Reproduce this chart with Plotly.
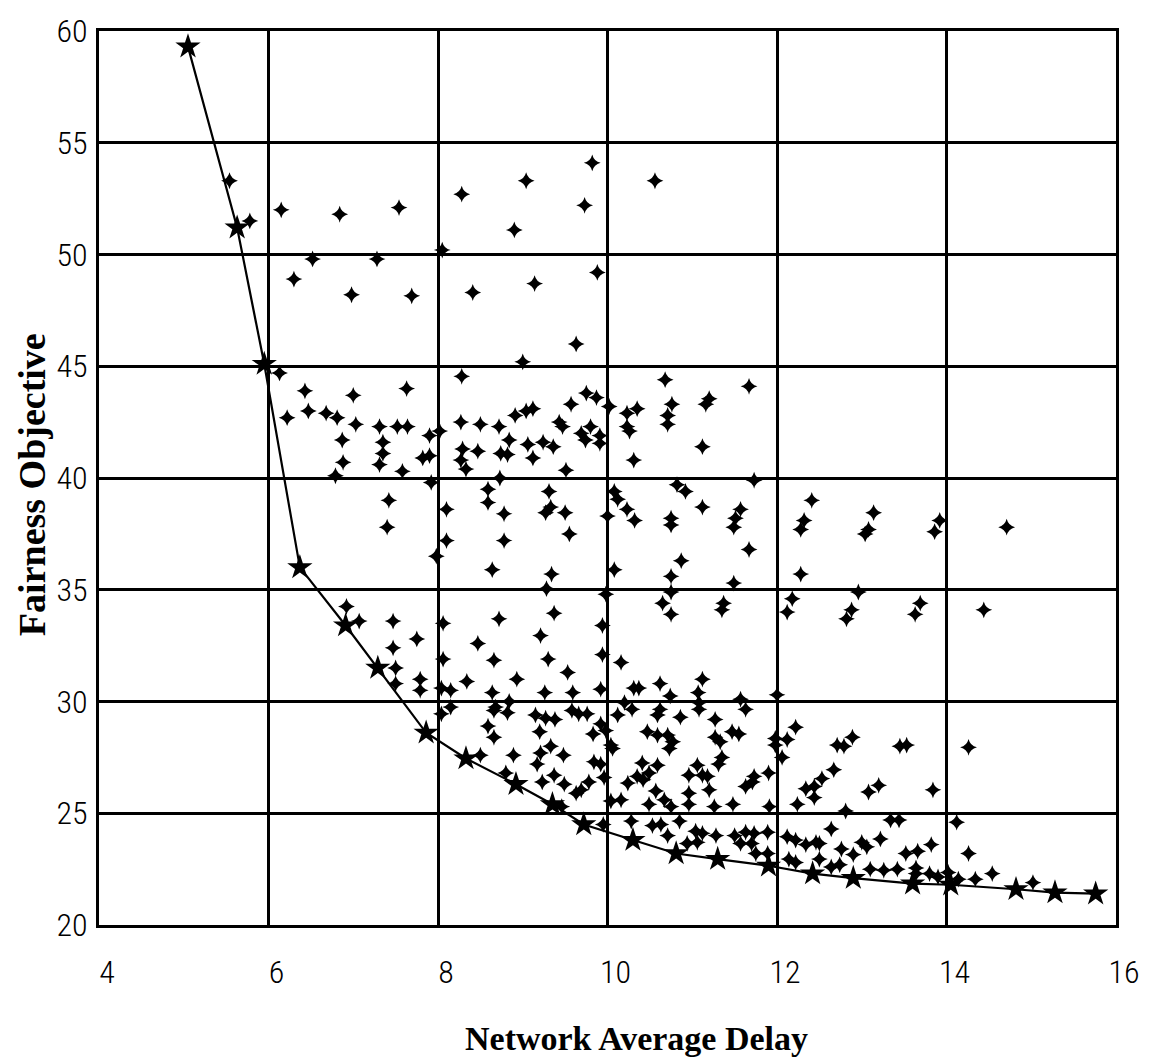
import plotly.graph_objects as go

# Pareto front (star markers joined by a line)
front_delay = [5.05, 5.63, 5.95, 6.37, 6.91, 7.29, 7.86, 8.33, 8.92, 9.35, 9.72,
               10.30, 10.81, 11.30, 11.90, 12.42, 12.90, 13.60, 14.05, 14.82, 15.28, 15.76]
front_fair = [59.3, 51.2, 45.1, 36.0, 33.4, 31.5, 28.6, 27.45, 26.3, 25.4, 24.5,
              23.8, 23.2, 22.95, 22.65, 22.3, 22.1, 21.85, 21.8, 21.6, 21.45, 21.4]

# Other evaluated solutions (+ markers)
pts_delay = [
    5.54, 5.78, 6.15, 6.84, 7.54, 8.28, 9.04, 9.82, 9.73, 8.90, 10.56,
    6.52, 7.28, 6.30, 6.98, 7.69, 8.41, 9.14, 9.88, 9.63, 8.05, 9.00,
    6.13, 8.28, 10.68,
    6.43, 7.00, 7.63, 6.22, 6.47, 6.68, 6.81, 7.03, 7.31, 7.52, 7.64, 7.90, 8.02,
    6.87, 7.35, 7.35, 7.82, 7.90, 6.88, 7.31, 7.58, 6.79, 7.92, 7.42, 7.40, 8.10, 8.10, 7.98,
    8.27, 8.50, 8.72, 8.91, 9.04, 9.12, 9.57, 9.75, 9.87, 8.84, 9.06, 9.24, 9.36, 9.12,
    8.29, 8.27, 8.47, 8.74, 8.82, 8.33, 9.43, 9.47, 9.69, 9.74, 9.80, 9.91, 9.91, 9.51,
    10.02, 10.23, 10.35, 10.23, 10.26, 10.31,
    8.73, 8.59, 8.59, 8.78, 8.78, 9.31, 9.33, 9.27, 9.50, 9.55, 8.64, 9.34, 9.28,
    10.08, 10.12, 10.23, 10.32, 10.00, 10.08, 9.98,
    11.67, 10.76, 10.71, 10.71, 11.20, 11.16, 11.12, 11.73, 10.82, 10.92, 11.12, 10.75, 10.75,
    11.57, 11.51, 11.49, 11.67, 10.87, 10.75, 10.75, 10.65, 10.75, 11.37, 11.35, 11.49,
    12.41, 12.32, 12.28, 13.14, 13.08, 13.04, 13.92, 13.86, 14.71, 12.28, 12.96, 12.88, 12.82,
    13.69, 13.63, 14.44, 12.18, 12.12,
    6.92, 7.07, 7.47, 7.75, 7.47, 7.50, 7.50, 7.79, 7.79, 8.06, 8.06, 8.04, 8.15, 8.15, 8.04,
    8.34, 8.47, 8.72, 8.66, 8.93, 9.21, 9.37, 9.30, 9.53, 9.94, 9.94, 9.92,
    8.64, 9.26, 9.59, 8.68, 8.82, 8.66, 8.84, 9.15, 9.27, 9.38, 9.58, 9.66, 9.76, 9.92, 9.98,
    9.83, 8.59, 8.66, 9.20, 9.33, 9.48, 9.21, 9.17, 8.89, 8.50, 9.84, 9.92, 10.04,
    9.37, 9.49, 9.23, 9.78, 9.96, 9.63, 9.69, 8.80,
    10.16, 11.12, 10.37, 10.31, 10.62, 10.74, 11.07, 11.08, 11.08, 11.57, 11.63, 10.20, 10.29,
    10.12, 10.62, 10.59, 10.86, 11.27, 10.47, 10.59, 10.71, 10.77, 10.73, 11.27, 11.33, 11.47,
    11.55, 10.06, 11.35, 11.31, 11.98, 11.98, 12.22, 12.06, 12.12, 12.71, 12.79, 12.89, 12.67,
    10.41, 10.59, 10.49, 11.06, 10.96, 11.12, 11.18, 11.73, 11.90, 10.35, 12.53, 12.00,
    13.53, 13.45, 14.26,
    9.46, 10.04, 10.16, 10.24, 10.42, 10.57, 10.67, 10.49, 10.75, 10.96, 10.96, 11.20, 11.26,
    11.48, 11.63, 11.71, 11.91, 12.24, 12.34, 12.44, 12.44, 12.81,
    10.28, 9.95, 10.53, 10.63, 10.85, 10.71, 11.04, 11.12, 11.28, 10.94, 11.06, 11.50, 11.63,
    11.73, 11.57, 11.70, 11.89, 11.75, 12.12, 12.22, 12.34, 12.46, 12.50, 12.64, 12.76, 12.14,
    12.22, 12.50, 12.64, 11.89,
    13.08, 13.20, 13.84, 13.34, 13.44, 14.12, 13.22, 13.06, 13.00, 13.82, 12.90, 13.52, 13.66,
    14.26, 12.74, 13.10, 13.26, 13.42, 13.64, 13.64, 13.80, 13.90, 14.02, 14.54, 14.34, 14.14,
    15.02,
]
pts_fair = [
    53.3, 51.5, 52.0, 51.8, 52.1, 52.7, 53.3, 54.1, 52.2, 51.1, 53.3,
    49.8, 49.8, 48.9, 48.2, 48.15, 48.3, 48.7, 49.2, 46.0, 50.2, 45.2,
    44.7, 44.55, 44.4,
    43.9, 43.7, 44.0, 42.7, 43.0, 42.9, 42.7, 42.4, 42.3, 42.3, 42.3, 41.9, 42.1,
    41.7, 41.6, 41.1, 40.9, 41.0, 40.7, 40.6, 40.3, 40.1, 39.8, 39.0, 37.8, 38.6, 37.2, 36.5,
    42.5, 42.4, 42.3, 42.8, 43.0, 43.1, 43.3, 43.8, 43.6, 41.7, 41.5, 41.6, 41.4, 40.9,
    41.3, 40.8, 41.2, 41.1, 41.05, 40.4, 42.5, 42.3, 42.0, 41.7, 42.3, 41.9, 41.55, 40.35,
    43.2, 42.9, 43.1, 42.3, 42.1, 40.8,
    40.0, 39.5, 38.9, 38.4, 37.2, 39.4, 38.7, 38.45, 38.45, 37.5, 35.9, 35.7, 35.05,
    39.4, 39.05, 38.6, 38.1, 38.3, 35.9, 34.8,
    44.1, 43.3, 42.8, 42.4, 43.55, 43.3, 41.4, 39.9, 39.7, 39.4, 38.7, 38.2, 37.9,
    38.6, 38.2, 37.8, 36.8, 36.3, 35.6, 34.9, 34.4, 33.9, 34.4, 34.1, 35.3,
    39.0, 38.1, 37.7, 38.45, 37.7, 37.5, 38.1, 37.6, 37.8, 35.7, 34.9, 34.1, 33.7,
    34.4, 33.9, 34.1, 34.6, 34.0,
    34.25, 33.6, 33.6, 32.8, 32.4, 31.5, 30.8, 31.0, 30.5, 33.5, 31.9, 30.6, 30.5, 29.75, 29.45,
    30.9, 32.6, 33.7, 31.85, 31.0, 32.95, 33.95, 31.9, 31.3, 33.4, 32.1, 30.55,
    30.4, 30.4, 30.4, 29.75, 29.5, 29.6, 30.0, 29.4, 29.25, 29.2, 29.6, 29.45, 29.45, 29.0, 28.7,
    28.55, 28.9, 28.4, 28.65, 28.0, 27.6, 27.7, 27.2, 27.6, 27.6, 27.3, 27.2, 28.05,
    26.7, 26.3, 26.4, 26.4, 26.6, 25.9, 26.05, 26.8,
    31.75, 31.0, 30.6, 30.6, 30.8, 30.25, 30.4, 29.95, 29.65, 30.1, 29.65, 29.95, 29.65,
    29.4, 29.65, 29.4, 29.3, 29.2, 28.65, 28.5, 28.5, 28.2, 27.9, 28.4, 28.2, 28.65,
    28.55, 27.9, 27.5, 27.2, 28.35, 28.05, 28.85, 27.5, 28.3, 28.05, 28.0, 28.4, 26.95,
    27.25, 27.15, 26.8, 27.15, 26.7, 26.7, 26.65, 26.65, 26.8, 26.65, 26.55, 30.3,
    28.05, 28.0, 27.95,
    25.3, 25.55, 25.6, 26.35, 26.5, 26.0, 25.6, 25.4, 25.3, 25.9, 25.4, 26.05, 25.3,
    25.4, 26.2, 26.4, 25.3, 25.4, 26.1, 26.2, 25.7, 25.1,
    24.65, 24.5, 24.45, 24.5, 24.65, 24.0, 24.2, 24.1, 24.0, 23.65, 23.7, 24.0, 24.15,
    24.1, 23.65, 23.65, 24.15, 23.2, 23.95, 23.8, 23.6, 23.7, 23.65, 24.3, 23.4, 22.95,
    22.8, 22.95, 22.6, 23.2,
    25.95, 26.25, 26.05, 24.7, 24.7, 24.6, 23.85, 23.5, 23.7, 23.6, 23.15, 23.2, 23.3,
    23.2, 22.7, 22.5, 22.45, 22.5, 22.55, 22.3, 22.3, 22.15, 22.35, 22.3, 22.05, 22.05,
    21.9,
]

x_ticks = [4, 6, 8, 10, 12, 14, 16]
y_ticks = [20, 25, 30, 35, 40, 45, 50, 55, 60]

fig = go.Figure()
fig.add_trace(go.Scatter(
    x=pts_delay, y=pts_fair, mode="markers",
    marker=dict(symbol="star-diamond", size=12, color="black", line=dict(width=0)),
    showlegend=False, hoverinfo="x+y",
))
fig.add_trace(go.Scatter(
    x=front_delay, y=front_fair, mode="lines+markers",
    line=dict(color="black", width=2.2),
    marker=dict(symbol="star", size=19, color="black", line=dict(width=0)),
    showlegend=False, hoverinfo="x+y",
))

tick_font = dict(family="Roboto Condensed, Liberation Sans Narrow, DejaVu Sans Condensed, Liberation Sans, sans-serif",
                 size=32, color="black", weight=300)
xtitle_font = dict(family="Liberation Serif, Times New Roman, serif", size=34, color="black", weight="bold")
ytitle_font = dict(family="Liberation Serif, Times New Roman, serif", size=38, color="black", weight="bold")

fig.update_xaxes(
    range=[4, 16], tickmode="array", tickvals=x_ticks, ticktext=[str(v) for v in x_ticks],
    showgrid=True, gridcolor="black", gridwidth=3,
    showline=True, linecolor="black", linewidth=3, mirror=True,
    zeroline=False, ticks="", tickfont=tick_font, ticklabelstandoff=17, ticklabelshift=8,
)
fig.update_yaxes(
    range=[20, 60], tickmode="array", tickvals=y_ticks, ticktext=[str(v) for v in y_ticks],
    showgrid=True, gridcolor="black", gridwidth=3,
    showline=True, linecolor="black", linewidth=3, mirror=True,
    zeroline=False, ticks="", tickfont=tick_font, ticklabelstandoff=2,
)

fig.update_layout(
    width=1152, height=1062,
    margin=dict(l=99, r=34, t=22, b=137),
    paper_bgcolor="white", plot_bgcolor="white",
    annotations=[
        dict(text="Network Average Delay", xref="paper", yref="paper",
             x=0.529, y=-0.127, xanchor="center", yanchor="middle",
             showarrow=False, font=xtitle_font),
        dict(text="Fairness Objective", xref="paper", yref="paper",
             x=-0.066, y=0.493, xanchor="center", yanchor="middle", textangle=-90,
             showarrow=False, font=ytitle_font),
    ],
)

fig.write_html("out.html")
